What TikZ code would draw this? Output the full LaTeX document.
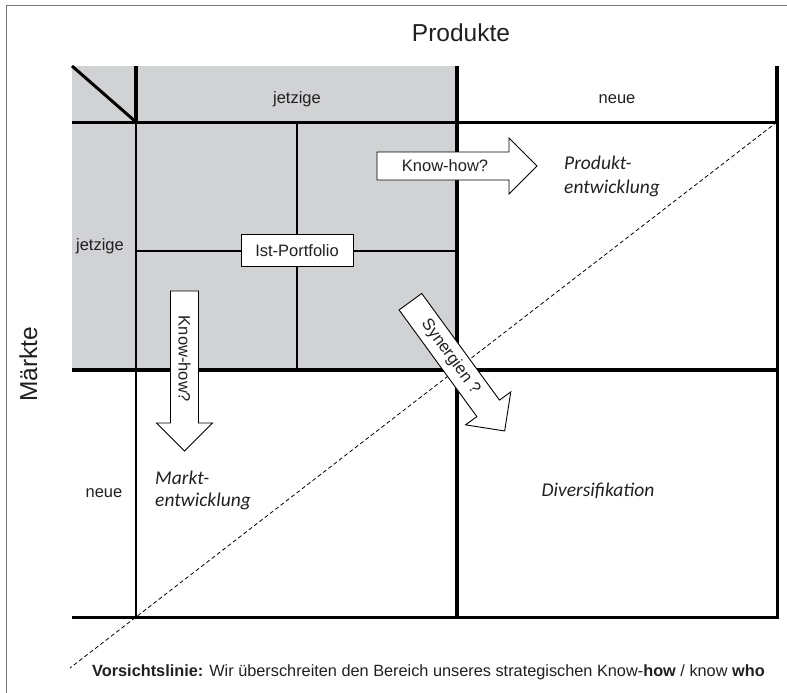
\documentclass[tikz,border=0pt]{standalone}
\usepackage{fontspec}
\setmainfont{Liberation Sans}
\newfontfamily\carlfont{Carlito}
\definecolor{quadgray}{RGB}{209,210,212}
\definecolor{txt}{RGB}{35,31,32}
\definecolor{framegray}{RGB}{120,120,120}
\begin{document}
\begin{tikzpicture}[x=1pt,y=-1pt,
  lbl/.style={font=\fontsize{16.5}{20}\selectfont, text=txt, inner sep=0pt},
  big/.style={font=\fontsize{24.5}{29}\selectfont, text=txt, inner sep=0pt},
  ital/.style={font=\carlfont\itshape\fontsize{19.5}{23}\selectfont, text=txt, inner sep=0pt},
  foot/.style={font=\fontsize{16.3}{19}\selectfont, text=txt, inner sep=0pt},
  heavy/.style={line width=4pt},
  medium/.style={line width=3pt},
  slim/.style={line width=1.8pt},
  fine/.style={line width=1.2pt},
  arrowbox/.style={draw=black, fill=white, line width=0.9pt, line join=miter},
  boxed/.style={draw=black, fill=white, line width=0.9pt, minimum width=112pt, minimum height=32pt, inner sep=0pt},
  caution/.style={line width=0.8pt, dash pattern=on 4pt off 2.7pt}
]
\useasboundingbox (0,0) rectangle (787,693);
% frame
\draw[framegray, line width=1.2pt] (6.5,693) -- (6.5,5.5) -- (787,5.5);
% gray quadrant
\fill[quadgray] (72,66) rectangle (457,370);
% inner thin lines
\draw[fine] (297,122) -- (297,370);
\draw[fine] (136,251) -- (457,251);
% grid
\draw[heavy] (136,66) -- (136,122);
\draw[slim] (136,122) -- (136,617);
\draw[heavy] (457,66) -- (457,617);
\draw[heavy] (777,66) -- (777,122);
\draw[medium] (777,122) -- (777,617);
\draw[medium] (72,122) -- (778.5,122);
\draw[line width=3.5pt] (72,370) -- (778.5,370);
\draw[medium] (72,617) -- (778.5,617);
\draw[medium] (72,66) -- (136,122);
% caution line
\coordinate (d1) at (777,122);
\coordinate (d2) at (70,668);
\draw[caution] (d1) -- (d2);
% titles
\node[big, anchor=base] (prod) at (461,41.5) {Produkte};
\node[big, anchor=base, rotate=90] (mark) at (37,364) {Märkte};
\node[lbl, anchor=base] (hj) at (297,103) {jetzige};
\node[lbl, anchor=base] (hn) at (617,103) {neue};
\node[lbl, anchor=base] (rj) at (100,250) {jetzige};
\node[lbl, anchor=base] (rn) at (104,497) {neue};
% Ist-Portfolio
\node[boxed, lbl, draw=black, fill=white, minimum width=112pt, minimum height=32pt] (ist) at (297,250.5) {Ist-Portfolio};
% italic labels
\node[ital, anchor=base west] (pe1) at (564,169.5) {Produkt-};
\node[ital, anchor=base west] (pe2) at (564,193) {entwicklung};
\node[ital, anchor=base west] (me1) at (155,484) {Markt-};
\node[ital, anchor=base west] (me2) at (155,506) {entwicklung};
\node[ital, anchor=base] (div) at (598,496) {Diversifikation};
% arrows
\begin{scope}[shift={(377,166)}]
\draw[arrowbox] (0,-14) -- (132,-14) -- (132,-28) -- (160,0) -- (132,28) -- (132,14) -- (0,14) -- cycle;
\node[lbl] (kh1) at (68,0) {Know-how?};
\end{scope}
\begin{scope}[shift={(184.5,291)}, rotate=-90]
\draw[arrowbox] (0,-14) -- (132,-14) -- (132,-28) -- (160,0) -- (132,28) -- (132,14) -- (0,14) -- cycle;
\node[lbl, transform shape] (kh2) at (68,0) {Know-how?};
\end{scope}
\begin{scope}[shift={(410.4,301.7)}, rotate=-53.9]
\draw[arrowbox] (0,-14) -- (132,-14) -- (132,-28) -- (160,0) -- (132,28) -- (132,14) -- (0,14) -- cycle;
\node[lbl, transform shape] (syn) at (68,0) {Synergien ?};
\end{scope}
% footer
\node[foot, anchor=base west] (vl) at (92,676) {\textbf{Vorsichtslinie:} Wir überschreiten den Bereich unseres strategischen Know-\textbf{how} / know \textbf{who}};
\end{tikzpicture}
\end{document}
